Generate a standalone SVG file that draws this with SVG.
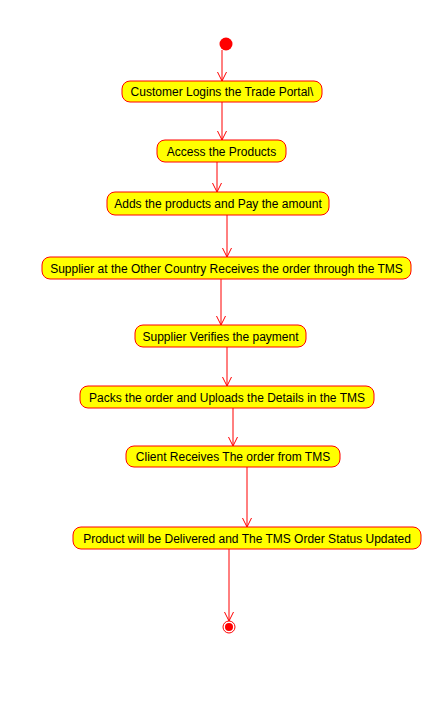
<svg xmlns="http://www.w3.org/2000/svg" width="431" height="705" viewBox="0 0 431 705">
<style>
.n{fill:#FFFF00;stroke:#FF0000;stroke-width:1}
.t{font-family:"Liberation Sans",Arial,sans-serif;font-size:12px;fill:#000;text-anchor:middle}
.c{stroke:#FF0000;stroke-width:1;fill:none;marker-end:url(#arr)}
</style>
<defs>
<marker id="arr" markerUnits="userSpaceOnUse" markerWidth="12" markerHeight="12" viewBox="-10 -6 12 12" refX="0" refY="0" orient="auto" overflow="visible">
<path d="M-9,-4.5 L0,0 L-9,4.5" fill="none" stroke="#FF0000" stroke-width="1"/>
</marker>
</defs>
<rect width="431" height="705" fill="#FFFFFF"/>
<g id="connectors">
<line class="c" x1="222" y1="50" x2="222" y2="81"/>
<line class="c" x1="222" y1="102" x2="222" y2="140"/>
<line class="c" x1="217" y1="162" x2="217" y2="192"/>
<line class="c" x1="227" y1="215" x2="227" y2="257"/>
<line class="c" x1="221" y1="279" x2="221" y2="325"/>
<line class="c" x1="227" y1="347" x2="227" y2="386"/>
<line class="c" x1="233" y1="408" x2="233" y2="446"/>
<line class="c" x1="247" y1="467" x2="247" y2="527"/>
<line class="c" x1="229" y1="549" x2="229" y2="621"/>
</g>
<g id="start"><circle cx="226" cy="44" r="6.5" fill="#FF0000"/></g>
<g id="n1"><rect class="n" x="122" y="81" width="200" height="21" rx="8"/><text class="t" x="222" y="96">Customer Logins the Trade Portal\</text></g>
<g id="n2"><rect class="n" x="157" y="140" width="129" height="22" rx="8"/><text class="t" x="221.5" y="155.5">Access the Products</text></g>
<g id="n3"><rect class="n" x="107" y="192" width="222" height="23" rx="8"/><text class="t" x="218" y="208">Adds the products and Pay the amount</text></g>
<g id="n4"><rect class="n" x="42" y="257" width="369" height="22" rx="8"/><text class="t" x="226.5" y="272.5">Supplier at the Other Country Receives the order through the TMS</text></g>
<g id="n5"><rect class="n" x="135" y="325" width="171" height="22" rx="8"/><text class="t" x="220.5" y="340.5">Supplier Verifies the payment</text></g>
<g id="n6"><rect class="n" x="80" y="386" width="294" height="22" rx="8"/><text class="t" x="227" y="401.5">Packs the order and Uploads the Details in the TMS</text></g>
<g id="n7"><rect class="n" x="126" y="446" width="214" height="21" rx="8"/><text class="t" x="233" y="461">Client Receives The order from TMS</text></g>
<g id="n8"><rect class="n" x="73" y="527" width="348" height="22" rx="8"/><text class="t" x="247" y="542.5">Product will be Delivered and The TMS Order Status Updated</text></g>
<g id="end"><circle cx="229" cy="627" r="6" fill="#FFFFFF" stroke="#FF0000" stroke-width="1"/><circle cx="229" cy="627" r="4" fill="#FF0000"/></g>
</svg>
